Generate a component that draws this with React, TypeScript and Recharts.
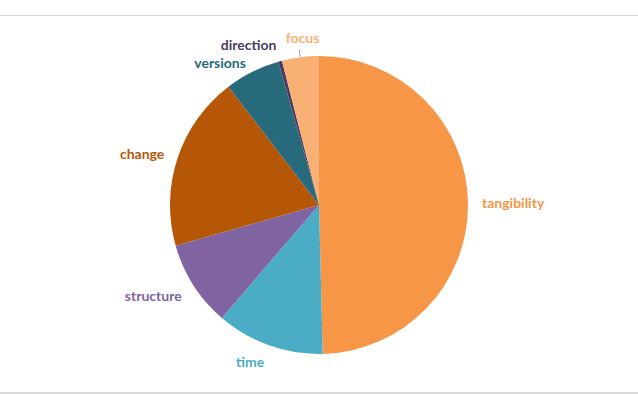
import { PieChart, Pie, Cell } from "recharts";

// ---- Data ----
const categories = ["tangibility", "time", "structure", "change", "versions", "direction", "focus"];
const shares = [49.6, 11.7, 9.3, 19.0, 6.0, 0.4, 4.0];
const colors = ["#F79646", "#4BACC6", "#8064A2", "#B65708", "#276A7C", "#4D3B62", "#F9B074"];

// labels that Excel pulled away from the slice get a leader line
const leaderLines = ["focus"];
// small vertical nudges so crowded labels don't collide
const labelNudge: Record<string, number> = { versions: 3, direction: -3 };

const data = categories.map((name, i) => ({ name, value: shares[i], color: colors[i] }));

const RAD = Math.PI / 180;

// Recharts midAngle is counter-clockwise from 3 o'clock
const renderLabel = (props: any) => {
  const { cx, cy, midAngle, outerRadius, name, index } = props;
  const sin = Math.cos(midAngle * RAD); // horizontal component
  const cos = Math.sin(midAngle * RAD); // upward component
  const r = outerRadius + 14;
  const x = cx + r * sin;
  let y = cy - r * cos;
  let anchor: "start" | "end" | "middle" = "middle";
  if (sin > 0.2) anchor = "start";
  else if (sin < -0.2) anchor = "end";
  if (anchor === "middle") y += cos > 0 ? -6 : 6;
  if (cos < -0.5) y += 3;
  y += labelNudge[name] ?? 0;
  const color = colors[index];
  const hasLeader = leaderLines.includes(name);
  return (
    <g key={name}>
      {hasLeader && (
        <line
          x1={cx + outerRadius * sin}
          y1={cy - outerRadius * cos}
          x2={cx + (outerRadius + 8) * sin}
          y2={cy - (outerRadius + 8) * cos}
          stroke="#A6A6A6"
          strokeWidth={1}
        />
      )}
      <text
        x={anchor === "middle" ? x + 4 : x}
        y={y}
        textAnchor={anchor}
        dominantBaseline="central"
        fill={color}
        fontSize={14}
        fontWeight={700}
        fontFamily="Lato, 'Open Sans', sans-serif"
      >
        {name}
      </text>
    </g>
  );
};

export default function App() {
  return (
    <div
      style={{
        position: "fixed",
        top: 0,
        left: 0,
        width: 638,
        height: 394,
        background: "#fff",
        overflow: "hidden",
      }}
    >
      {/* frame lines of the chart area */}
      <div style={{ position: "absolute", top: 15, left: 0, width: 638, height: 1, background: "#D9D9D9" }} />
      <div style={{ position: "absolute", top: 392, left: 0, width: 638, height: 2, background: "#D9D9D9" }} />
      <PieChart
        width={638}
        height={394}
        margin={{ top: 0, right: 0, bottom: 0, left: 0 }}
        style={{ position: "absolute", top: 0, left: 0 }}
      >
        <Pie
          data={data}
          dataKey="value"
          nameKey="name"
          cx={319}
          cy={205}
          outerRadius={149}
          startAngle={90}
          endAngle={-270}
          stroke="none"
          label={renderLabel}
          labelLine={false}
          isAnimationActive={false}
        >
          {data.map((d) => (
            <Cell key={d.name} fill={d.color} />
          ))}
        </Pie>
      </PieChart>
    </div>
  );
}
